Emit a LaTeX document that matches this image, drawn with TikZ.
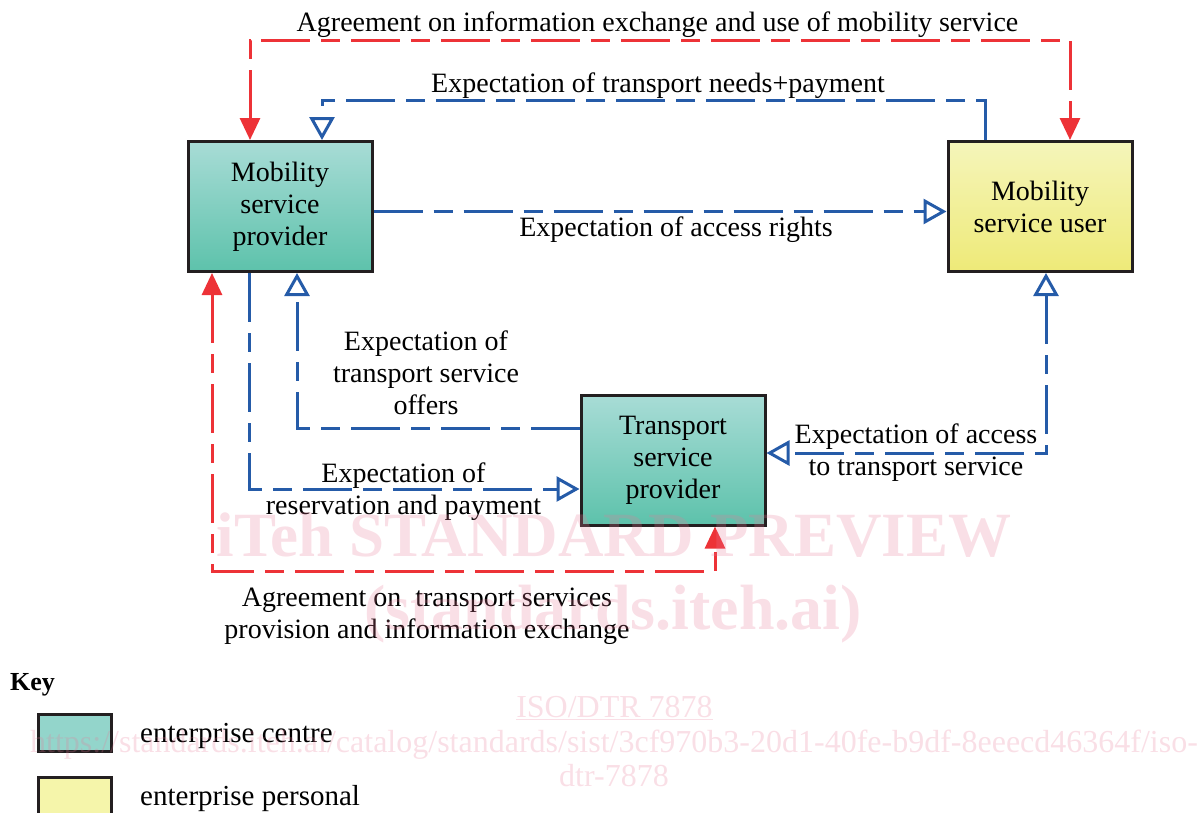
\documentclass[tikz,border=0pt]{standalone}
\usepackage{fontspec}
\setmainfont{Liberation Serif}
\usetikzlibrary{arrows.meta}

\definecolor{isoblue}{RGB}{37,91,168}
\definecolor{isored}{RGB}{237,50,55}
\definecolor{frame}{RGB}{35,31,32}
\definecolor{tealtop}{RGB}{168,220,214}
\definecolor{tealbot}{RGB}{93,194,171}
\definecolor{yeltop}{RGB}{245,245,186}
\definecolor{yelbot}{RGB}{238,234,120}
\definecolor{tealkey}{RGB}{147,213,203}
\definecolor{yelkey}{RGB}{245,245,170}
\definecolor{wmark}{RGB}{232,120,150}

\tikzset{
  opentip/.tip={Triangle[open, length=23pt, width=25pt]},
  solidtip/.tip={Triangle[length=22pt, width=20pt]},
  entity/.style={draw=frame, line width=3pt, minimum width=184pt,
    minimum height=130pt, align=center, inner sep=0pt,
    font=\fontsize{28}{32}\selectfont},
  centre/.style={entity, top color=tealtop, bottom color=tealbot},
  personal/.style={entity, top color=yeltop, bottom color=yelbot},
  lbl/.style={align=center, inner sep=0pt, font=\fontsize{28}{32}\selectfont},
  flow/.style={line width=3pt, dash pattern=on 49pt off 11pt on 19pt off 11pt},
  expect/.style={flow, draw=isoblue},
  agree/.style={flow, draw=isored},
  keybox/.style={draw=frame, line width=3pt, minimum width=73pt,
    minimum height=37pt, inner sep=0pt},
  keytext/.style={anchor=base west, inner sep=0pt,
    font=\fontsize{29}{32}\selectfont},
  wm/.style={text=wmark, text opacity=0.24, inner sep=0pt, anchor=base}
}

\begin{document}
\begin{tikzpicture}[x=1pt, y=-1pt]
\path[use as bounding box] (0,0) rectangle (1197,812);

% enterprise boxes
\node[centre] (msp) at (280,206.5) {Mobility\\service\\provider};
\node[personal] (msu) at (1040,206.5) {Mobility\\service user};
\node[centre] (tsp) at (673,460) {Transport\\service\\provider};

% bend points of the connectors
\coordinate (topL) at (250,40);
\coordinate (topR) at (1070,40);
\coordinate (botL) at (212,571);
\coordinate (botR) at (715,571);
\coordinate (needR) at (985,100);
\coordinate (needL) at (322,100);
\coordinate (rights) at (660,211.5);
\coordinate (offL) at (297,428);
\coordinate (resL) at (249,489);
\coordinate (accR) at (1046,453);

% agreements
\draw[agree, solidtip-solidtip] (msp.north -| topL) -- (topL) -- (topR) -- (msu.north -| topR);
\draw[agree, solidtip-solidtip] (msp.south -| botL) -- (botL) -- (botR) -- (tsp.south -| botR);

% expectations
\draw[expect, -opentip] (msu.north -| needR) -- (needR) -- (needL) -- (msp.north -| needL);
\draw[expect, -opentip] (msp.east |- rights) -- (msu.west |- rights);
\draw[expect, -opentip] (tsp.west |- offL) -- (offL) -- (msp.south -| offL);
\draw[expect, -opentip] (msp.south -| resL) -- (resL) -- (tsp.west |- resL);
\draw[expect, opentip-opentip] (msu.south -| accR) -- (accR) -- (tsp.east |- accR);

% connector labels
\node[lbl, anchor=base] (agreeTop) at (657.5,31) {Agreement on information exchange and use of mobility service};
\node[lbl, anchor=base] (needs) at (658,92) {Expectation of transport needs+payment};
\node[lbl, anchor=base] (access) at (676,236) {Expectation of access rights};
\node[lbl] (offers) at (426,372.5) {Expectation of\\transport service\\offers};
\node[lbl] (reserve) at (403.5,491.5) {Expectation of\\reservation and payment};
\node[lbl] (accessTS) at (916,452.5) {Expectation of access\\to transport service};
\node[lbl] (agreeBot) at (427,616.5) {Agreement on\ \ transport services\\provision and information exchange};

% key
\node[anchor=base west, inner sep=0pt, font=\fontsize{26}{30}\selectfont\bfseries] (key) at (10,690) {Key};
\node[keybox, fill=tealkey] (kc) at (74.5,733) {};
\node[keybox, fill=yelkey] (kp) at (74.5,796) {};
\node[keytext] (kct) at (140,742) {enterprise centre};
\node[keytext] (kpt) at (140,805) {enterprise personal};

% preview stamp
\node[wm, font=\fontsize{63}{70}\selectfont\bfseries] (wm1) at (614,556) {iTeh STANDARD PREVIEW};
\node[wm, font=\fontsize{64}{70}\selectfont\bfseries] (wm2) at (613,629) {(standards.iteh.ai)};
\node[wm, font=\fontsize{32}{36}\selectfont] (wm3) at (614.5,717) {\underline{ISO/DTR 7878}};
\node[wm, font=\fontsize{32}{36}\selectfont] (wm4) at (614,752) {https://standards.iteh.ai/catalog/standards/sist/3cf970b3-20d1-40fe-b9df-8eeecd46364f/iso-};
\node[wm, font=\fontsize{32}{36}\selectfont] (wm5) at (614,786) {dtr-7878};
\end{tikzpicture}
\end{document}
